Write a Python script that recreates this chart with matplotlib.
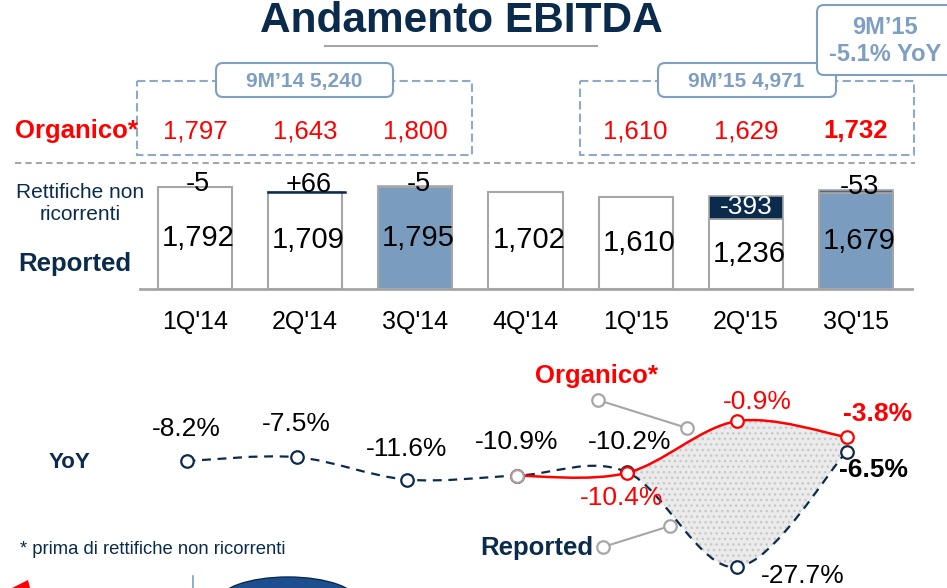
import matplotlib.pyplot as plt
from matplotlib.path import Path
from matplotlib.patches import PathPatch, FancyBboxPatch, Rectangle, Ellipse, Polygon

plt.rcParams['font.family'] = ['Liberation Sans', 'DejaVu Sans']

# data
quarters = ["1Q'14", "2Q'14", "3Q'14", "4Q'14", "1Q'15", "2Q'15", "3Q'15"]
reported = [1792, 1709, 1795, 1702, 1610, 1236, 1679]
organico = [1797, 1643, 1800, None, 1610, 1629, 1732]
rettifiche = [-5, 66, -5, None, None, -393, -53]
highlight = [False, False, True, False, False, False, True]

yoy_reported = [-8.2, -7.5, -11.6, -10.9, -10.2, -27.7, -6.5]
yoy_organico = [-10.9, -10.4, -0.9, -3.8]      # from 4Q'14 on
org_start = 3

tot_9m14 = "9M\u201914 5,240"
tot_9m15 = "9M\u201915 4,971"
delta_9m = "9M\u201915\n-5.1% YoY"

NAVY = '#0b2b4c'
RED = '#ff0000'
GREY = '#a6a6a6'
STEEL = '#7a9cbf'
BOXC = '#7f9fc2'


def fmt(v):
    return f"{v:,}"


def smooth_path(xs, ys):
    # catmull-rom through the points, drawn as cubic beziers
    pts = list(zip(xs, ys))
    n = len(pts)
    verts = [pts[0]]
    codes = [Path.MOVETO]
    for i in range(n - 1):
        p0 = pts[max(i - 1, 0)]
        p1 = pts[i]
        p2 = pts[i + 1]
        p3 = pts[min(i + 2, n - 1)]
        c1 = (p1[0] + (p2[0] - p0[0]) / 6, p1[1] + (p2[1] - p0[1]) / 6)
        c2 = (p2[0] - (p3[0] - p1[0]) / 6, p2[1] - (p3[1] - p1[1]) / 6)
        verts += [c1, c2, p2]
        codes += [Path.CURVE4] * 3
    return verts, codes


fig = plt.figure(figsize=(9.47, 5.88), dpi=100)

# background layer in pixel units for the slide decorations
bg = fig.add_axes([0, 0, 1, 1])
bg.set_xlim(0, 947)
bg.set_ylim(588, 0)
bg.axis('off')

bg.text(461, 32, "Andamento EBITDA", fontsize=30.5, fontweight='bold',
        color=NAVY, ha='center', va='baseline')
bg.plot([325, 597], [46, 46], color=GREY, lw=1.5)

# dashed period boxes
for x0, x1 in [(137, 472), (580, 914)]:
    bg.add_patch(Rectangle((x0, 81), x1 - x0, 74, fill=False, ec='#8eaac8',
                           lw=1.5, ls=(0, (4, 2))))
bg.plot([15, 915], [163, 163], color=GREY, lw=1.5, ls=(0, (3, 2)))

for (x0, y0, w, h) in [(216, 63, 177, 34), (658, 63, 178, 34),
                       (817, 5, 140, 70)]:
    bg.add_patch(FancyBboxPatch((x0, y0), w, h,
                                boxstyle='round,pad=0,rounding_size=7',
                                fc='white', ec=BOXC, lw=1.5))
bg.text(304, 81, tot_9m14, fontsize=15, fontweight='bold', color=BOXC,
        ha='center', va='center')
bg.text(746, 81, tot_9m15, fontsize=15, fontweight='bold', color=BOXC,
        ha='center', va='center')
bg.text(885, 41, delta_9m, fontsize=17, fontweight='bold', color=BOXC,
        ha='center', va='center', linespacing=1.25)

# row captions
bg.text(76, 131, "Organico*", fontsize=18.5, fontweight='bold', color=RED,
        ha='center', va='center')
bg.text(80, 203, "Rettifiche non\nricorrenti", fontsize=15, color=NAVY,
        ha='center', va='center', linespacing=1.2)
bg.text(75, 264, "Reported", fontsize=18.5, fontweight='bold', color=NAVY,
        ha='center', va='center')
bg.text(69, 462, "YoY", fontsize=16, fontweight='bold', color=NAVY,
        ha='center', va='center')
bg.text(20, 550, "* prima di rettifiche non ricorrenti", fontsize=13.3,
        color=NAVY, ha='left', va='center')

# callouts for the two YoY lines
bg.text(596, 376, "Organico*", fontsize=18.5, fontweight='bold', color=RED,
        ha='center', va='center')
bg.plot([598, 687], [400, 428], color=GREY, lw=1.5, marker='o', ms=9,
        mfc='white', mec=GREY, mew=1.6)
bg.text(537, 548, "Reported", fontsize=18.5, fontweight='bold', color=NAVY,
        ha='center', va='center')
bg.plot([603, 670], [547, 526], color=GREY, lw=1.5, marker='o', ms=9,
        mfc='white', mec=GREY, mew=1.6)

# logo bits cut off at the bottom of the slide
bg.add_patch(Ellipse((288, 602), 140, 50, fc='#1d4f8f', ec='#0b2b4c', lw=1))
bg.add_patch(Polygon([(12, 588), (28, 580), (30, 588)], fc=RED, ec='none'))
bg.plot([193, 193], [576, 588], color='#7f9fc2', lw=1.2)

# organic values row
for i, v in enumerate(organico):
    if v is None:
        continue
    bg.text(195 + 110.17 * i, 131, fmt(v), fontsize=18.5, color=RED,
            fontweight='bold' if i == len(organico) - 1 else 'normal',
            ha='center', va='center')

# bar chart
ax = fig.add_axes([140 / 947, (588 - 289) / 588, 772 / 947, 130 / 588])
ax.patch.set_alpha(0)
ax.set_xlim(-0.499, 6.508)
ax.set_ylim(0, 2281)
xs = list(range(len(quarters)))
ax.bar(xs, reported, width=0.673,
       color=[STEEL if h else 'white' for h in highlight],
       edgecolor=GREY, linewidth=1.5, zorder=2)

for i, (r, adj) in enumerate(zip(reported, rettifiche)):
    ax.text(i + 0.03, r / 2, fmt(r), fontsize=21, ha='center',
            va='center', zorder=4)
    if adj is None:
        continue
    if adj < 0:
        seg_col = NAVY if adj < -100 else '#56657a'
        ax.bar(i, -adj, bottom=r, width=0.673, color=seg_col,
               edgecolor=GREY, linewidth=1.2, zorder=3)
    else:
        ax.plot([i - 0.34, i + 0.36], [r, r], color=NAVY, lw=1.8, zorder=3)
    lab = f"+{adj}" if adj > 0 else f"{adj}"
    if adj < -100:
        ax.text(i, r - adj / 2, lab, fontsize=19, color='white',
                ha='center', va='center', zorder=5)
    else:
        ax.text(i + 0.03, r + abs(adj) + 50, lab, fontsize=19.5,
                ha='center', va='center', zorder=5)

for s in ['top', 'right', 'left']:
    ax.spines[s].set_visible(False)
ax.spines['bottom'].set_color(GREY)
ax.spines['bottom'].set_linewidth(2)
ax.set_yticks([])
ax.set_xticks(xs)
ax.set_xticklabels(quarters, fontsize=18)
ax.tick_params(axis='x', length=0, pad=15)

# YoY lines
lx = fig.add_axes([140 / 947, 0, 772 / 947, (588 - 380) / 588])
lx.patch.set_alpha(0)
lx.set_xlim(-0.4227, 6.595)
lx.set_ylim(-31.5, 6.66)
lx.axis('off')

xo = list(range(org_start, org_start + len(yoy_organico)))
rv, rc = smooth_path(xs, yoy_reported)
ov, oc = smooth_path(xo, yoy_organico)

# shaded gap between organic and reported from 1Q'15
k = 3 * (4 - org_start)
seg_o = ov[k:]
seg_r = rv[3 * 4:][::-1]
fill_v = seg_o + seg_r + [seg_o[0]]
fill_c = ([Path.MOVETO] + [Path.CURVE4] * (len(seg_o) - 1) + [Path.LINETO]
          + [Path.CURVE4] * (len(seg_r) - 1) + [Path.CLOSEPOLY])
lx.add_patch(PathPatch(Path(fill_v, fill_c), fc='#ebebeb', ec='#c8c8c8',
                       lw=0, hatch='...', zorder=1))

lx.add_patch(PathPatch(Path(rv, rc), fill=False, ec=NAVY, lw=1.6,
                       ls=(0, (4, 3)), zorder=2))
lx.add_patch(PathPatch(Path(ov, oc), fill=False, ec=RED, lw=1.8, zorder=3))

lx.plot(xs, yoy_reported, 'o', ms=9, mfc='white', mec=NAVY, mew=1.6,
        zorder=4)
lx.plot(xo, yoy_organico, 'o', ms=9, mfc='white', mec=RED, mew=1.6,
        zorder=5)
lx.plot(xo[0], yoy_organico[0], 'o', ms=9, mfc='white', mec=GREY, mew=1.6,
        zorder=6)

rep_offsets = [(0, 32), (0, 33), (0, 31), (0, 34), (3, 30), (66, -9), (27, -18)]
org_offsets = [None, (-5, -25), (21, 19), (31, 23)]

for i, (v, off) in enumerate(zip(yoy_reported, rep_offsets)):
    lx.annotate(f"{v:.1f}%", (xs[i], v), xytext=off,
                textcoords='offset pixels', fontsize=19, ha='center',
                va='center', fontweight='bold' if i == 6 else 'normal',
                annotation_clip=False)
for i, (v, off) in enumerate(zip(yoy_organico, org_offsets)):
    if off is None:
        continue
    lx.annotate(f"{v:.1f}%", (xo[i], v), xytext=off,
                textcoords='offset pixels', fontsize=19, ha='center',
                va='center', color=RED,
                fontweight='bold' if i == len(yoy_organico) - 1 else 'normal',
                annotation_clip=False)

fig.savefig('out.png', dpi=100)
